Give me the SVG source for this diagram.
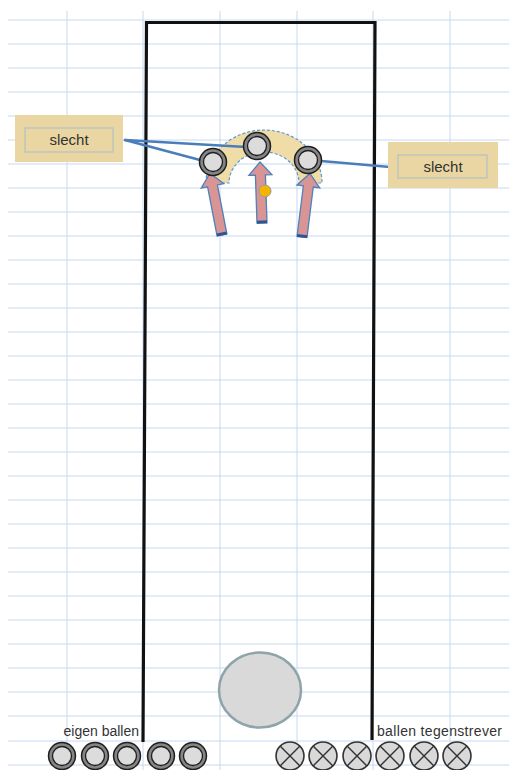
<svg xmlns="http://www.w3.org/2000/svg" width="509" height="770" viewBox="0 0 509 770">
<defs>
<style>
.grid line{stroke:#c6d9ef;stroke-width:1}
.lbl{fill:#e9d6a2;}
.lblin{fill:none;stroke:#a9bccb;stroke-width:1}
.t{font-family:"Liberation Sans","DejaVu Sans",sans-serif;font-size:15px;fill:#333}
.ts{font-family:"Liberation Sans","DejaVu Sans",sans-serif;font-size:14px;fill:#333}
.conn{stroke:#4a7ebb;stroke-width:2.5;fill:none;stroke-linecap:round}
.arrow{fill:#d99594;stroke:#4f81bd;stroke-width:1.3;stroke-linejoin:miter}
.base{stroke:#2f5597;stroke-width:3}
.ring{fill:#858585;stroke:#1e1e1e;stroke-width:1.5}
.core{fill:#dcdcdc;stroke:#1e1e1e;stroke-width:1.3}
.opp{fill:#d9d9d9;stroke:#333;stroke-width:1.6}
.x{stroke:#333;stroke-width:1.4}
</style>
<g id="ball-sym">
<circle class="ring" r="13.5"/>
<circle class="core" r="9.5"/>
</g>
<g id="opp-sym">
<circle class="opp" r="14"/>
<line class="x" x1="-9.9" y1="-9.9" x2="9.9" y2="9.9"/>
<line class="x" x1="-9.9" y1="9.9" x2="9.9" y2="-9.9"/>
</g>
</defs>
<rect width="509" height="770" fill="#fff"/>
<g class="grid">
<line x1="67" y1="11" x2="67" y2="770"/>
<line x1="143" y1="11" x2="143" y2="770"/>
<line x1="220" y1="11" x2="220" y2="770"/>
<line x1="297" y1="11" x2="297" y2="770"/>
<line x1="373" y1="11" x2="373" y2="770"/>
<line x1="450" y1="11" x2="450" y2="770"/>
<line x1="8" y1="20" x2="509" y2="20"/>
<line x1="8" y1="44" x2="509" y2="44"/>
<line x1="8" y1="68" x2="509" y2="68"/>
<line x1="8" y1="92" x2="509" y2="92"/>
<line x1="8" y1="116" x2="509" y2="116"/>
<line x1="8" y1="140" x2="509" y2="140"/>
<line x1="8" y1="164" x2="509" y2="164"/>
<line x1="8" y1="188" x2="509" y2="188"/>
<line x1="8" y1="212" x2="509" y2="212"/>
<line x1="8" y1="236" x2="509" y2="236"/>
<line x1="8" y1="260" x2="509" y2="260"/>
<line x1="8" y1="284" x2="509" y2="284"/>
<line x1="8" y1="308" x2="509" y2="308"/>
<line x1="8" y1="332" x2="509" y2="332"/>
<line x1="8" y1="356" x2="509" y2="356"/>
<line x1="8" y1="380" x2="509" y2="380"/>
<line x1="8" y1="404" x2="509" y2="404"/>
<line x1="8" y1="428" x2="509" y2="428"/>
<line x1="8" y1="452" x2="509" y2="452"/>
<line x1="8" y1="476" x2="509" y2="476"/>
<line x1="8" y1="500" x2="509" y2="500"/>
<line x1="8" y1="524" x2="509" y2="524"/>
<line x1="8" y1="548" x2="509" y2="548"/>
<line x1="8" y1="572" x2="509" y2="572"/>
<line x1="8" y1="596" x2="509" y2="596"/>
<line x1="8" y1="620" x2="509" y2="620"/>
<line x1="8" y1="644" x2="509" y2="644"/>
<line x1="8" y1="668" x2="509" y2="668"/>
<line x1="8" y1="692" x2="509" y2="692"/>
<line x1="8" y1="716" x2="509" y2="716"/>
<line x1="8" y1="741" x2="509" y2="741"/>
<line x1="8" y1="765" x2="509" y2="765"/>
</g>
<g id="lane">
<path d="M143,742 L146.5,22.5 L375,22.5 L372,740" fill="none" stroke="#111" stroke-width="3.2"/>
</g>
<g id="arc">
<path d="M206,183 A58,53 0 0 1 322,183 L299,183 A35,31 0 0 0 229,183 Z" fill="#f0dca6" stroke="#5b9bd5" stroke-width="1.2" stroke-dasharray="3,2"/>
</g>
<g id="connectors">
<line class="conn" x1="125" y1="140" x2="246" y2="147"/>
<line class="conn" x1="125" y1="140" x2="200" y2="160"/>
<line class="conn" x1="321" y1="161" x2="390" y2="167"/>
</g>
<g id="arrow-left" transform="translate(222,235) rotate(-10.95)">
<polygon class="arrow" points="-5,0 5,0 5,-50 11.5,-50 0,-63 -11.5,-50 -5,-50"/>
<line class="base" x1="-5" y1="-1" x2="5" y2="-1"/>
</g>
<g id="arrow-mid" transform="translate(262,223) rotate(-1.9)">
<polygon class="arrow" points="-5,0 5,0 5,-48 11.5,-48 0,-61 -11.5,-48 -5,-48"/>
<line class="base" x1="-5" y1="-1" x2="5" y2="-1"/>
</g>
<g id="arrow-right" transform="translate(302,237) rotate(7.1)">
<polygon class="arrow" points="-5,0 5,0 5,-51 11.5,-51 0,-64 -11.5,-51 -5,-51"/>
<line class="base" x1="-5" y1="-1" x2="5" y2="-1"/>
</g>
<g id="ball-left"><use href="#ball-sym" x="213" y="162"/></g>
<g id="ball-mid"><use href="#ball-sym" x="257" y="146"/></g>
<g id="ball-right"><use href="#ball-sym" x="308" y="160"/></g>
<g id="jack"><circle cx="265" cy="191" r="6" fill="#f5b400" stroke="#9a9a9a" stroke-width="1"/></g>
<g id="label-left">
<rect class="lbl" x="15" y="115" width="108" height="47"/>
<rect class="lblin" x="25" y="128" width="88" height="24"/>
<text class="t" x="69" y="145" text-anchor="middle">slecht</text>
</g>
<g id="label-right">
<rect class="lbl" x="388" y="142" width="110" height="46"/>
<rect class="lblin" x="398" y="155" width="89" height="23"/>
<text class="t" x="443" y="172" text-anchor="middle">slecht</text>
</g>
<g id="big-ball"><ellipse cx="260" cy="690" rx="41" ry="37.5" fill="#d9d9d9" stroke="#8fa3ab" stroke-width="2.5"/></g>
<g id="own-balls">
<text class="ts" x="139" y="736" text-anchor="end">eigen ballen</text>
<use href="#ball-sym" x="62" y="756"/>
<use href="#ball-sym" x="95" y="756"/>
<use href="#ball-sym" x="127" y="756"/>
<use href="#ball-sym" x="161" y="756"/>
<use href="#ball-sym" x="193" y="756"/>
</g>
<g id="opp-balls">
<text class="ts" x="377" y="736" textLength="125" lengthAdjust="spacing">ballen tegenstrever</text>
<use href="#opp-sym" x="290" y="756"/>
<use href="#opp-sym" x="323" y="756"/>
<use href="#opp-sym" x="357" y="756"/>
<use href="#opp-sym" x="390" y="756"/>
<use href="#opp-sym" x="424" y="756"/>
<use href="#opp-sym" x="457" y="756"/>
</g>
</svg>
